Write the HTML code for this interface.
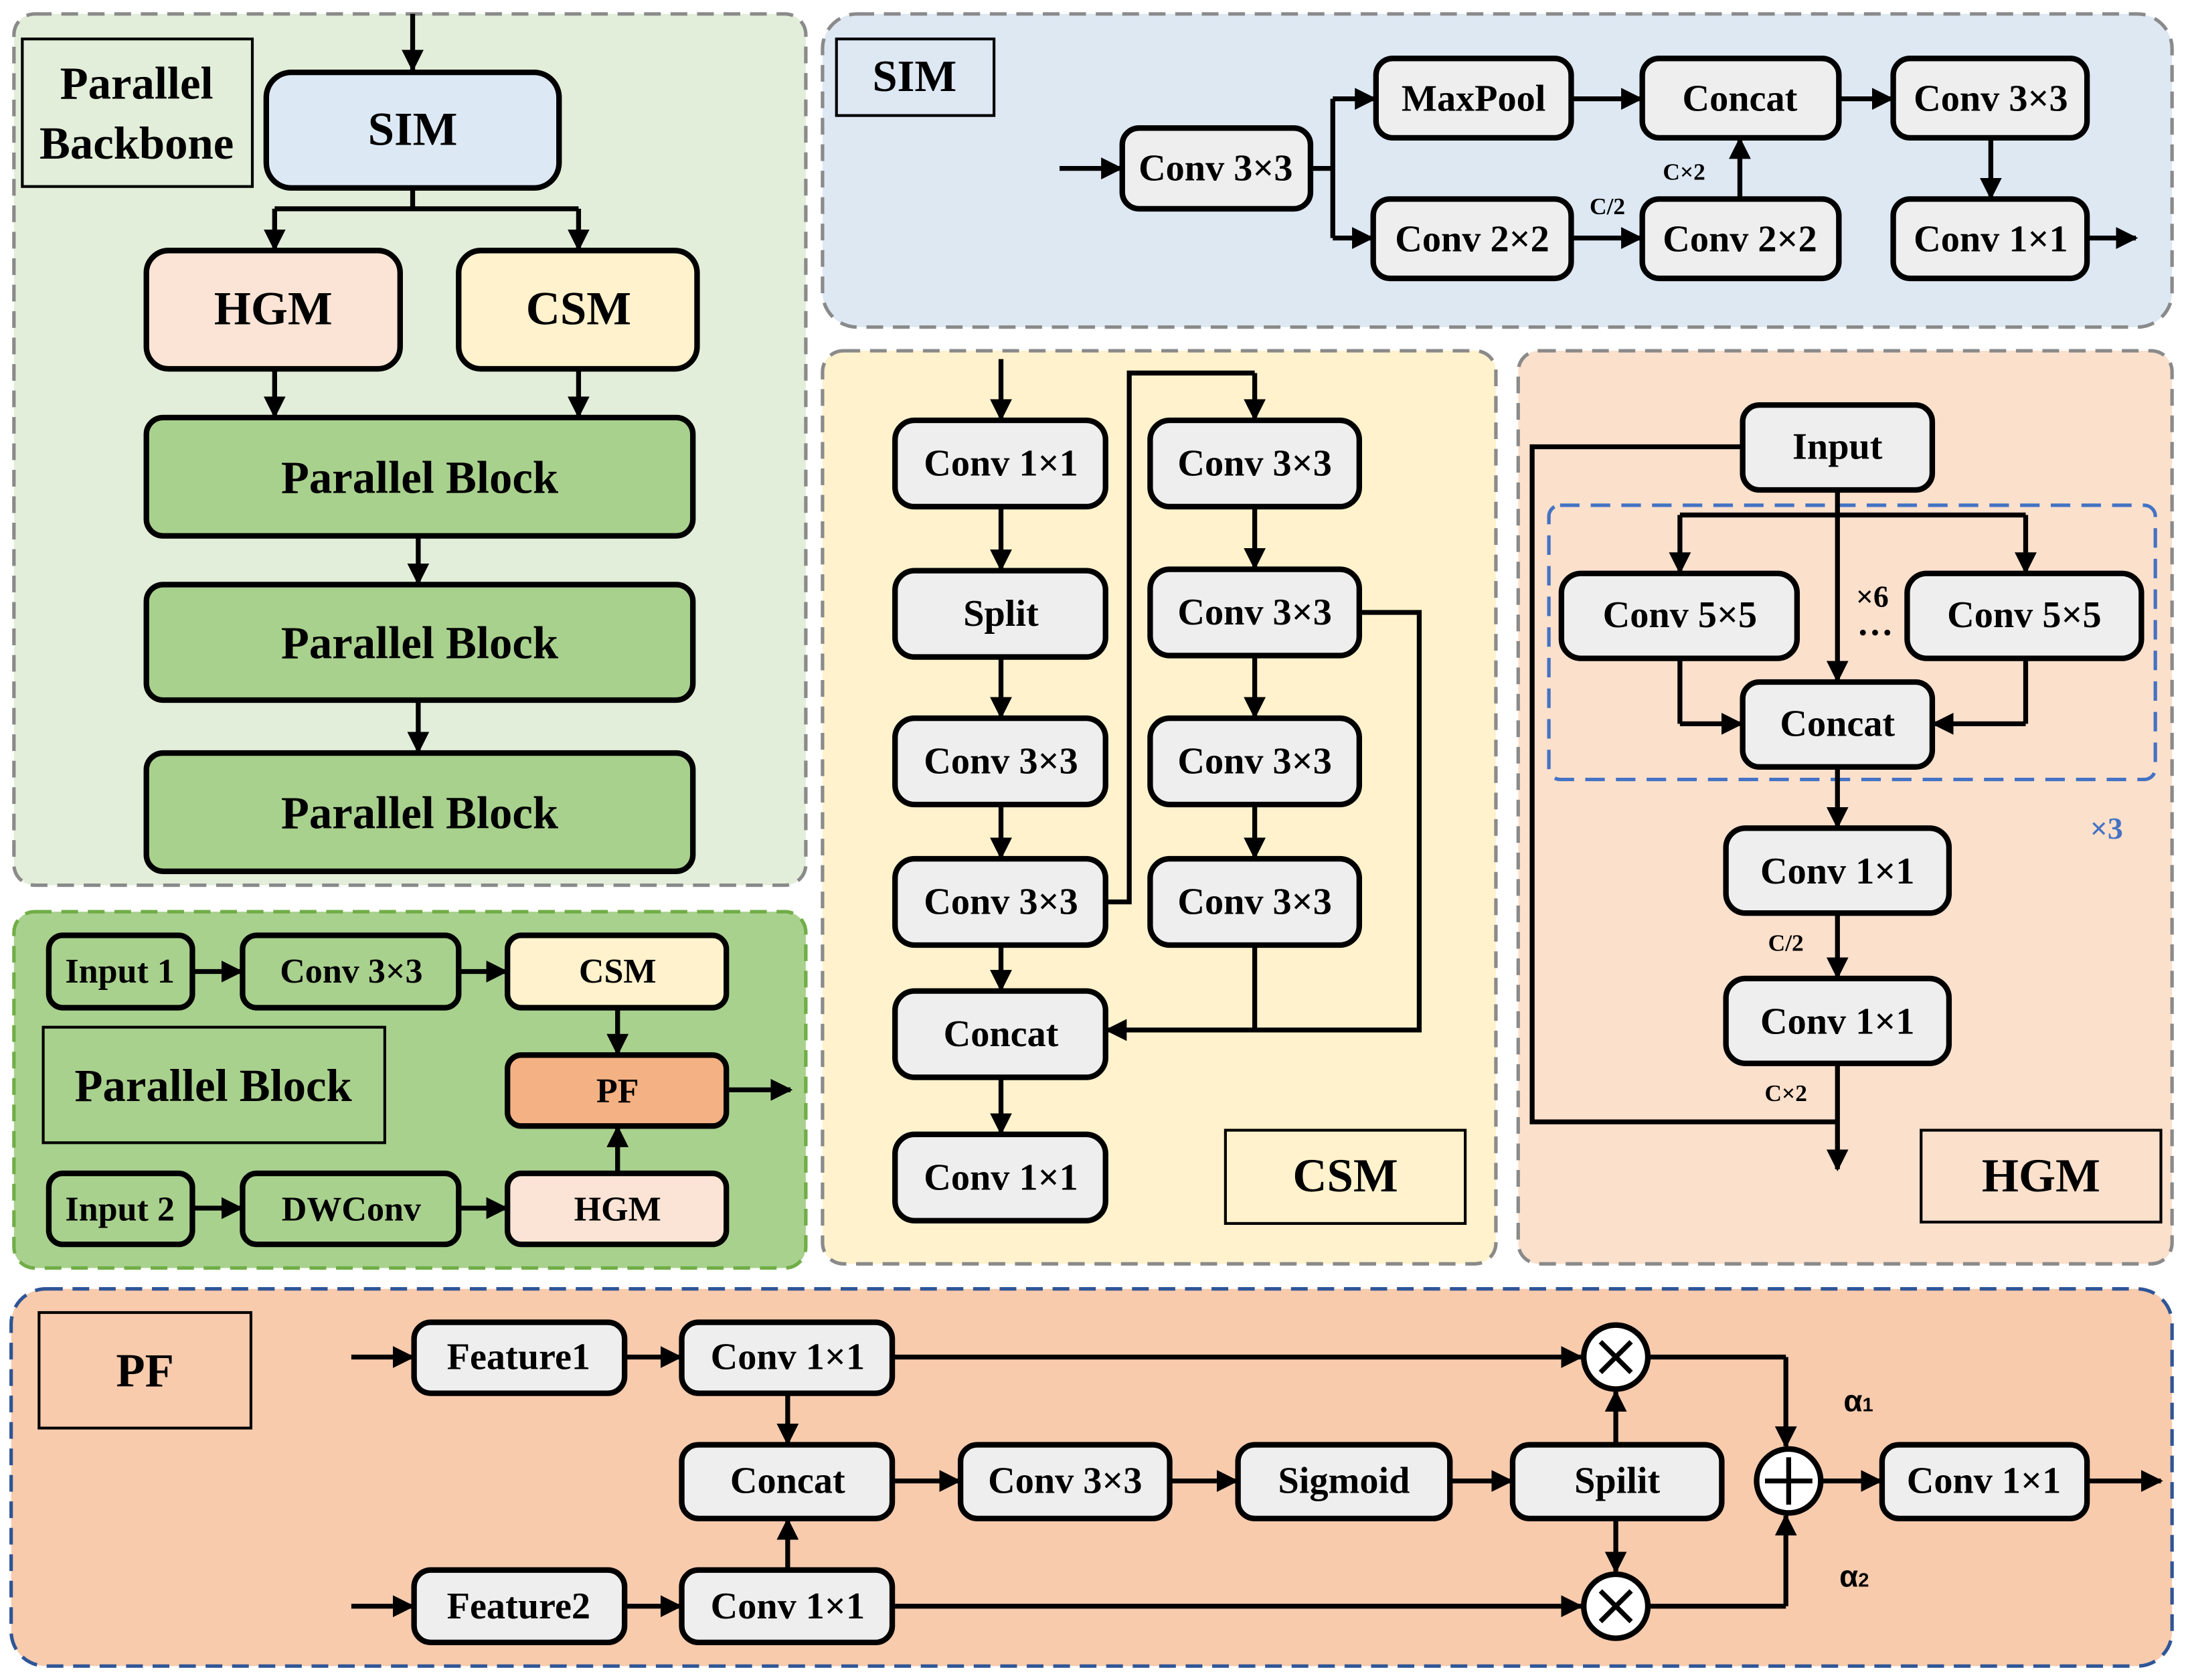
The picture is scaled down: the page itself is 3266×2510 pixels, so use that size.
<!DOCTYPE html>
<html><head><meta charset="utf-8"><style>
html,body{margin:0;padding:0;background:#fff;}
svg{display:block;}
text{font-family:"Liberation Serif",serif;font-weight:bold;fill:#000;}
</style></head><body>
<svg width="3266" height="2510" viewBox="0 0 1568 1207" preserveAspectRatio="none" xmlns="http://www.w3.org/2000/svg">
<defs>
<marker id="a" viewBox="0 0 10 10" refX="9" refY="5" markerWidth="4.5" markerHeight="4.5" orient="auto-start-reverse"><path d="M0,0 L10,5 L0,10 z" fill="#000"/></marker>
</defs>
<style>
.p{stroke-dasharray:12 7;stroke-width:2.5;}
.b{stroke:#000;stroke-width:4;}
.l{stroke:#000;stroke-width:3.5;fill:none;}
.ar{stroke:#000;stroke-width:3.5;fill:none;marker-end:url(#a);}
.t{font-size:27px;text-anchor:middle;dominant-baseline:central;}
.s{font-size:17px;text-anchor:middle;}
</style>

<!-- Panel 1 -->
<rect x="10" y="10" width="568" height="626" rx="15" fill="#e2eed9" stroke="#8a8a8a" class="p"/>
<rect x="16" y="28" width="165" height="106" fill="#e2eed9" stroke="#000" stroke-width="2"/>
<text x="98" y="60" class="t" style="font-size:33px">Parallel</text>
<text x="98" y="103" class="t" style="font-size:33px">Backbone</text>
<line x1="296" y1="10" x2="296" y2="50" class="ar"/>
<rect x="191" y="52" width="210" height="83" rx="18" fill="#dce9f5" class="b"/>
<text x="296" y="93" class="t" style="font-size:34px">SIM</text>
<path d="M296,135 V150 M197,150 H415" class="l"/>
<line x1="197" y1="150" x2="197" y2="179" class="ar"/>
<line x1="415" y1="150" x2="415" y2="179" class="ar"/>
<rect x="105" y="180" width="182" height="85" rx="16" fill="#fbe4d5" class="b"/>
<text x="196" y="222" class="t" style="font-size:34px">HGM</text>
<rect x="329" y="180" width="171" height="85" rx="16" fill="#fff2cc" class="b"/>
<text x="415" y="222" class="t" style="font-size:34px">CSM</text>
<line x1="197" y1="265" x2="197" y2="299" class="ar"/>
<line x1="415" y1="265" x2="415" y2="299" class="ar"/>
<rect x="105" y="300" width="392" height="85" rx="12" fill="#a9d18e" class="b"/>
<text x="301" y="343" class="t" style="font-size:33px">Parallel Block</text>
<line x1="300" y1="385" x2="300" y2="419" class="ar"/>
<rect x="105" y="420" width="392" height="83" rx="12" fill="#a9d18e" class="b"/>
<text x="301" y="462" class="t" style="font-size:33px">Parallel Block</text>
<line x1="300" y1="503" x2="300" y2="540" class="ar"/>
<rect x="105" y="541" width="392" height="85" rx="12" fill="#a9d18e" class="b"/>
<text x="301" y="584" class="t" style="font-size:33px">Parallel Block</text>

<!-- Panel 2 -->
<rect x="10" y="655" width="568" height="256" rx="15" fill="#a9d18e" stroke="#70ad47" class="p"/>
<rect x="31" y="738" width="245" height="83" fill="#a9d18e" stroke="#000" stroke-width="2"/>
<text x="153" y="780" class="t" style="font-size:33px">Parallel Block</text>
<rect x="35" y="672" width="103" height="52" rx="10" fill="#a9d18e" class="b"/>
<text x="86" y="698" class="t" style="font-size:25px">Input 1</text>
<rect x="174" y="672" width="155" height="52" rx="10" fill="#a9d18e" class="b"/>
<text x="252" y="698" class="t" style="font-size:25px">Conv 3×3</text>
<rect x="364" y="672" width="157" height="52" rx="10" fill="#fff2cc" class="b"/>
<text x="443" y="698" class="t" style="font-size:25px">CSM</text>
<rect x="364" y="758" width="157" height="51" rx="10" fill="#f4b183" class="b"/>
<text x="443" y="784" class="t" style="font-size:25px">PF</text>
<rect x="364" y="843" width="157" height="51" rx="10" fill="#fbe4d5" class="b"/>
<text x="443" y="869" class="t" style="font-size:25px">HGM</text>
<rect x="35" y="843" width="103" height="51" rx="10" fill="#a9d18e" class="b"/>
<text x="86" y="869" class="t" style="font-size:25px">Input 2</text>
<rect x="174" y="843" width="155" height="51" rx="10" fill="#a9d18e" class="b"/>
<text x="252" y="869" class="t" style="font-size:25px">DWConv</text>
<line x1="138" y1="698" x2="173" y2="698" class="ar"/>
<line x1="329" y1="698" x2="363" y2="698" class="ar"/>
<line x1="138" y1="868" x2="173" y2="868" class="ar"/>
<line x1="329" y1="868" x2="363" y2="868" class="ar"/>
<line x1="443" y1="724" x2="443" y2="757" class="ar"/>
<line x1="443" y1="843" x2="443" y2="810" class="ar"/>
<line x1="521" y1="783" x2="567" y2="783" class="ar"/>

<!-- SIM panel -->
<rect x="590" y="10" width="968" height="225" rx="25" fill="#dde8f3" stroke="#8a8a8a" class="p"/>
<rect x="600" y="28" width="113" height="55" fill="#dde8f3" stroke="#000" stroke-width="2"/>
<text x="656" y="55" class="t" style="font-size:32px">SIM</text>
<line x1="760" y1="121" x2="804" y2="121" class="ar"/>
<g fill="#eeeeee">
<rect x="805" y="92" width="135" height="58" rx="12" class="b"/>
<rect x="987" y="42" width="140" height="57" rx="12" class="b"/>
<rect x="985" y="143" width="142" height="57" rx="12" class="b"/>
<rect x="1178" y="42" width="141" height="57" rx="12" class="b"/>
<rect x="1178" y="143" width="141" height="57" rx="12" class="b"/>
<rect x="1358" y="42" width="139" height="57" rx="12" class="b"/>
<rect x="1358" y="143" width="139" height="57" rx="12" class="b"/>
</g>
<text x="872" y="121" class="t">Conv 3×3</text>
<text x="1057" y="71" class="t">MaxPool</text>
<text x="1056" y="172" class="t">Conv 2×2</text>
<text x="1248" y="71" class="t">Concat</text>
<text x="1248" y="172" class="t">Conv 2×2</text>
<text x="1428" y="71" class="t">Conv 3×3</text>
<text x="1428" y="172" class="t">Conv 1×1</text>
<path d="M940,121 H956 M956,71 V171" class="l"/>
<line x1="956" y1="71" x2="986" y2="71" class="ar"/>
<line x1="956" y1="171" x2="984" y2="171" class="ar"/>
<line x1="1127" y1="71" x2="1177" y2="71" class="ar"/>
<line x1="1127" y1="171" x2="1177" y2="171" class="ar"/>
<text x="1153" y="154" class="s">C/2</text>
<line x1="1248" y1="143" x2="1248" y2="100" class="ar"/>
<text x="1208" y="129" class="s">C×2</text>
<line x1="1319" y1="71" x2="1357" y2="71" class="ar"/>
<line x1="1428" y1="99" x2="1428" y2="142" class="ar"/>
<line x1="1497" y1="171" x2="1532" y2="171" class="ar"/>

<!-- CSM panel -->
<rect x="590" y="252" width="483" height="656" rx="15" fill="#fff2cc" stroke="#8a8a8a" class="p"/>
<rect x="879" y="812" width="172" height="67" fill="#fff2cc" stroke="#000" stroke-width="2"/>
<text x="965" y="845" class="t" style="font-size:34px">CSM</text>
<g fill="#eeeeee">
<rect x="642" y="302" width="151" height="62" rx="14" class="b"/>
<rect x="642" y="410" width="151" height="62" rx="14" class="b"/>
<rect x="642" y="516" width="151" height="62" rx="14" class="b"/>
<rect x="642" y="617" width="151" height="62" rx="14" class="b"/>
<rect x="642" y="712" width="151" height="62" rx="14" class="b"/>
<rect x="642" y="815" width="151" height="62" rx="14" class="b"/>
<rect x="825" y="302" width="150" height="62" rx="14" class="b"/>
<rect x="825" y="409" width="150" height="62" rx="14" class="b"/>
<rect x="825" y="516" width="150" height="62" rx="14" class="b"/>
<rect x="825" y="617" width="150" height="62" rx="14" class="b"/>
</g>
<text x="718" y="333" class="t">Conv 1×1</text>
<text x="718" y="441" class="t">Split</text>
<text x="718" y="547" class="t">Conv 3×3</text>
<text x="718" y="648" class="t">Conv 3×3</text>
<text x="718" y="743" class="t">Concat</text>
<text x="718" y="846" class="t">Conv 1×1</text>
<text x="900" y="333" class="t">Conv 3×3</text>
<text x="900" y="440" class="t">Conv 3×3</text>
<text x="900" y="547" class="t">Conv 3×3</text>
<text x="900" y="648" class="t">Conv 3×3</text>
<line x1="718" y1="258" x2="718" y2="301" class="ar"/>
<line x1="718" y1="364" x2="718" y2="409" class="ar"/>
<line x1="718" y1="472" x2="718" y2="515" class="ar"/>
<line x1="718" y1="578" x2="718" y2="616" class="ar"/>
<line x1="718" y1="679" x2="718" y2="711" class="ar"/>
<line x1="718" y1="774" x2="718" y2="814" class="ar"/>
<path d="M793,648 H810 V268 H900" class="l"/>
<line x1="900" y1="268" x2="900" y2="301" class="ar"/>
<line x1="900" y1="364" x2="900" y2="408" class="ar"/>
<line x1="900" y1="471" x2="900" y2="515" class="ar"/>
<line x1="900" y1="578" x2="900" y2="616" class="ar"/>
<path d="M975,440 H1018 V740 H900 M900,679 V740" class="l"/>
<line x1="900" y1="740" x2="794" y2="740" class="ar"/>

<!-- HGM panel -->
<rect x="1089" y="252" width="469" height="656" rx="15" fill="#fbe0cc" stroke="#8a8a8a" class="p"/>
<rect x="1378" y="812" width="172" height="66" fill="#fbe0cc" stroke="#000" stroke-width="2"/>
<text x="1464" y="845" class="t" style="font-size:34px">HGM</text>
<rect x="1111" y="363" width="435" height="197" rx="8" fill="none" stroke="#4472c4" stroke-width="2.5" stroke-dasharray="14 8"/>
<text x="1511" y="595" class="t" style="font-size:22px;fill:#4472c4">×3</text>
<g fill="#eeeeee">
<rect x="1250" y="291" width="136" height="61" rx="12" class="b"/>
<rect x="1120" y="412" width="169" height="61" rx="14" class="b"/>
<rect x="1368" y="412" width="168" height="61" rx="14" class="b"/>
<rect x="1250" y="490" width="136" height="61" rx="12" class="b"/>
<rect x="1238" y="595" width="160" height="61" rx="14" class="b"/>
<rect x="1238" y="703" width="160" height="61" rx="14" class="b"/>
</g>
<text x="1318" y="321" class="t">Input</text>
<text x="1205" y="442" class="t">Conv 5×5</text>
<text x="1452" y="442" class="t">Conv 5×5</text>
<text x="1318" y="520" class="t">Concat</text>
<text x="1318" y="626" class="t">Conv 1×1</text>
<text x="1318" y="734" class="t">Conv 1×1</text>
<text x="1343" y="436" class="s" style="font-size:22px">×6</text>
<text x="1345" y="456" class="s" style="font-size:26px">…</text>
<path d="M1250,321 H1099 V806 H1318 M1205,370 H1453" class="l"/>
<line x1="1318" y1="352" x2="1318" y2="489" class="ar"/>
<line x1="1205" y1="370" x2="1205" y2="411" class="ar"/>
<line x1="1453" y1="370" x2="1453" y2="411" class="ar"/>
<path d="M1205,473 V520 M1453,473 V520" class="l"/>
<line x1="1205" y1="520" x2="1249" y2="520" class="ar"/>
<line x1="1453" y1="520" x2="1387" y2="520" class="ar"/>
<line x1="1318" y1="551" x2="1318" y2="594" class="ar"/>
<line x1="1318" y1="656" x2="1318" y2="702" class="ar"/>
<text x="1281" y="683" class="s">C/2</text>
<line x1="1318" y1="764" x2="1318" y2="840" class="ar"/>
<text x="1281" y="791" class="s">C×2</text>

<!-- PF panel -->
<rect x="8" y="926" width="1550" height="271" rx="25" fill="#f8cbad" stroke="#2f5597" class="p"/>
<rect x="28" y="943" width="152" height="83" fill="#f8cbad" stroke="#000" stroke-width="2"/>
<text x="104" y="985" class="t" style="font-size:34px">PF</text>
<g fill="#eeeeee">
<rect x="297" y="950" width="151" height="51" rx="12" class="b"/>
<rect x="489" y="950" width="151" height="51" rx="12" class="b"/>
<rect x="489" y="1038" width="151" height="53" rx="12" class="b"/>
<rect x="689" y="1038" width="150" height="53" rx="12" class="b"/>
<rect x="888" y="1038" width="152" height="53" rx="12" class="b"/>
<rect x="1085" y="1038" width="150" height="53" rx="12" class="b"/>
<rect x="297" y="1128" width="151" height="52" rx="12" class="b"/>
<rect x="489" y="1128" width="151" height="52" rx="12" class="b"/>
<rect x="1350" y="1038" width="147" height="53" rx="12" class="b"/>
</g>
<text x="372" y="975" class="t">Feature1</text>
<text x="565" y="975" class="t">Conv 1×1</text>
<text x="565" y="1064" class="t">Concat</text>
<text x="764" y="1064" class="t">Conv 3×3</text>
<text x="964" y="1064" class="t">Sigmoid</text>
<text x="1160" y="1064" class="t">Spilit</text>
<text x="372" y="1154" class="t">Feature2</text>
<text x="565" y="1154" class="t">Conv 1×1</text>
<text x="1423" y="1064" class="t">Conv 1×1</text>
<line x1="252" y1="975" x2="296" y2="975" class="ar"/>
<line x1="448" y1="975" x2="488" y2="975" class="ar"/>
<line x1="252" y1="1154" x2="296" y2="1154" class="ar"/>
<line x1="448" y1="1154" x2="488" y2="1154" class="ar"/>
<line x1="640" y1="975" x2="1134" y2="975" class="ar"/>
<line x1="640" y1="1154" x2="1134" y2="1154" class="ar"/>
<line x1="565" y1="1001" x2="565" y2="1037" class="ar"/>
<line x1="565" y1="1128" x2="565" y2="1092" class="ar"/>
<line x1="640" y1="1064" x2="688" y2="1064" class="ar"/>
<line x1="839" y1="1064" x2="887" y2="1064" class="ar"/>
<line x1="1040" y1="1064" x2="1084" y2="1064" class="ar"/>
<line x1="1159" y1="1038" x2="1159" y2="1000" class="ar"/>
<line x1="1159" y1="1091" x2="1159" y2="1129" class="ar"/>
<circle cx="1159" cy="975" r="23" fill="#fff" class="b"/>
<path d="M1148,964 L1170,986 M1170,964 L1148,986" class="l" stroke-width="3"/>
<circle cx="1159" cy="1154" r="23" fill="#fff" class="b"/>
<path d="M1148,1143 L1170,1165 M1170,1143 L1148,1165" class="l" stroke-width="3"/>
<path d="M1182,975 H1281" class="l"/>
<line x1="1281" y1="975" x2="1281" y2="1039" class="ar"/>
<path d="M1182,1154 H1281" class="l"/>
<line x1="1281" y1="1154" x2="1281" y2="1089" class="ar"/>
<circle cx="1283" cy="1064" r="23" fill="#fff" class="b"/>
<path d="M1266,1064 H1300 M1283,1047 V1081" class="l"/>
<line x1="1306" y1="1064" x2="1349" y2="1064" class="ar"/>
<line x1="1497" y1="1064" x2="1550" y2="1064" class="ar"/>
<text x="1333" y="1014" class="s" style="font-size:22px;font-family:'Liberation Sans',sans-serif">α<tspan font-size="14">1</tspan></text>
<text x="1330" y="1140" class="s" style="font-size:22px;font-family:'Liberation Sans',sans-serif">α<tspan font-size="14">2</tspan></text>
</svg>
</body></html>
